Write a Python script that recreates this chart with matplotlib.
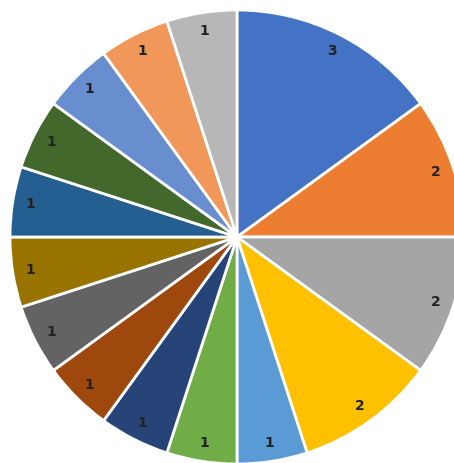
import matplotlib
matplotlib.use("Agg")
import matplotlib.pyplot as plt

values = [3, 2, 2, 2, 1, 1, 1, 1, 1, 1, 1, 1, 1, 1, 1]
labels = [str(v) for v in values]
colors = ["#4472C4", "#ED7D31", "#A5A5A5", "#FFC000", "#5B9BD5", "#70AD47",
          "#264478", "#9E480E", "#636363", "#997300", "#255E91", "#43682B",
          "#698ED0", "#F1975A", "#B7B7B7"]

W, H = 454, 463
fig = plt.figure(figsize=(W / 100, H / 100), dpi=100)
cx, cy, r = 237, 237, 227
ax = fig.add_axes([(cx - r) / W, (H - cy - r) / H, 2 * r / W, 2 * r / H])
ax.pie(values, labels=labels, colors=colors, startangle=90, counterclock=False,
       labeldistance=0.92, radius=1,
       wedgeprops=dict(edgecolor="white", linewidth=2),
       textprops=dict(fontsize=10, color="#222222", fontweight="bold",
                      ha="center", va="center"))
for t in ax.texts:
    t.set_ha("center")
    t.set_va("center")
ax.set_xlim(-1, 1)
ax.set_ylim(-1, 1)
ax.set_aspect("auto")
ax.axis("off")
fig.savefig("out.png", dpi=100)
